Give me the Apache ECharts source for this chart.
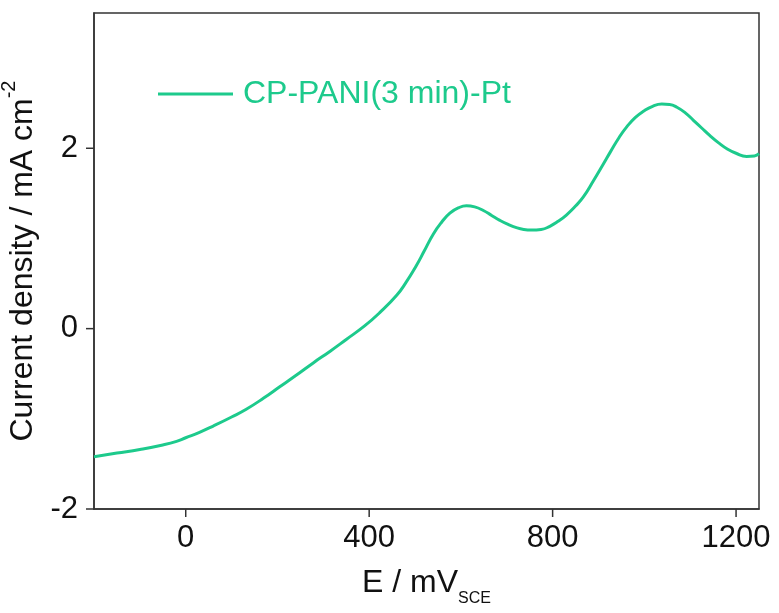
<!DOCTYPE html>
<html>
<head>
<meta charset="utf-8">
<script src="https://cdn.jsdelivr.net/npm/echarts@6/dist/echarts.min.js"></script>
<style>html,body{margin:0;padding:0;background:#fff}#c{width:779px;height:613px}</style>
</head>
<body>
<div id="c"></div>
<script>
const seriesName = 'CP-PANI(3 min)-Pt';
const potential = [-200,-150,-100,-50,-20,0,30,60,100,132,170,205,240,278,315,350,390,423,460,480,503,520,540,558,576,595,612,630,649,667,685,703,721,737,754,775,794,812,830,850,867,889,910,926,945,962,980,998,1018,1038,1055,1071,1090,1107,1125,1143,1162,1180,1200,1223,1240,1250];
const current = [-1.42,-1.38,-1.34,-1.29,-1.25,-1.21,-1.15,-1.08,-0.98,-0.894,-0.77,-0.645,-0.52,-0.38,-0.25,-0.12,0.03,0.177,0.37,0.51,0.7,0.86,1.05,1.18,1.28,1.34,1.362,1.35,1.31,1.255,1.2,1.155,1.12,1.10,1.093,1.10,1.135,1.19,1.26,1.36,1.46,1.64,1.82,1.96,2.12,2.24,2.34,2.41,2.465,2.49,2.485,2.455,2.39,2.31,2.225,2.14,2.06,1.995,1.945,1.91,1.915,1.94];
const xTicks = [0, 400, 800, 1200];
const yTicks = [-2, 0, 2];
const xRange = [-200, 1250];
const yRange = [-2, 3.5];

const green = '#1dca8c';
const axisColor = '#333';
const font = 'Liberation Sans, Arial, sans-serif';
const tickLen = 8;

const chart = echarts.init(document.getElementById('c'), null, {renderer: 'canvas'});
chart.setOption({
  animation: false,
  backgroundColor: '#fff',
  grid: {left: 94, right: 20, top: 13, bottom: 104, show: true, borderColor: axisColor, borderWidth: 1.5, containLabel: false, outerBoundsMode: 'none'},
  legend: {
    left: 153, top: 73,
    icon: 'rect', itemWidth: 75, itemHeight: 3, itemGap: 10,
    textStyle: {color: green, fontSize: 32, fontFamily: font, padding: [0,0,0,5]},
    data: [seriesName]
  },
  xAxis: {
    type: 'value', min: xRange[0], max: xRange[1],
    axisLine: {show: true, onZero: false, lineStyle: {color: axisColor, width: 1.5}},
    axisTick: {show: false},
    axisLabel: {show: true, fontSize: 31, color: '#111', fontFamily: font, margin: 14, customValues: xTicks, formatter: v => String(v)},
    splitLine: {show: false},
    name: '{a|E / mV}{s|SCE}',
    nameLocation: 'middle', nameGap: 58,
    nameTextStyle: {
      fontFamily: font, color: '#111',
      rich: {
        a: {fontSize: 32, lineHeight: 40, verticalAlign: 'top', fontFamily: font, color: '#111'},
        s: {fontSize: 16, lineHeight: 14, verticalAlign: 'bottom', fontFamily: font, color: '#111'}
      }
    }
  },
  yAxis: {
    type: 'value', min: yRange[0], max: yRange[1],
    axisLine: {show: true, onZero: false, lineStyle: {color: axisColor, width: 1.5}},
    axisTick: {show: false},
    axisLabel: {show: true, fontSize: 31, color: '#111', fontFamily: font, margin: 16, customValues: yTicks},
    splitLine: {show: false},
    name: '{a|Current density / mA cm}{s|-2}',
    nameLocation: 'middle', nameGap: 46,
    nameTextStyle: {
      fontFamily: font, color: '#111',
      rich: {
        a: {fontSize: 32, lineHeight: 40, verticalAlign: 'bottom', fontFamily: font, color: '#111'},
        s: {fontSize: 20, lineHeight: 14, verticalAlign: 'top', fontFamily: font, color: '#111'}
      }
    }
  },
  series: [{
    name: seriesName,
    type: 'line',
    data: potential.map((e, i) => [e, current[i]]),
    smooth: 0.5,
    symbol: 'none',
    lineStyle: {color: green, width: 3},
    itemStyle: {color: green},
    clip: true
  }]
});

// outward tick marks, positioned through the chart's own scales
const corner = chart.convertToPixel({gridIndex: 0}, [xRange[0], yRange[0]]);
const tickGraphics = [];
xTicks.forEach(v => {
  const p = chart.convertToPixel({gridIndex: 0}, [v, yRange[0]]);
  tickGraphics.push({type: 'rect', silent: true, z: 100,
    shape: {x: p[0] - 0.75, y: corner[1], width: 1.5, height: tickLen},
    style: {fill: axisColor}});
});
yTicks.forEach(v => {
  const p = chart.convertToPixel({gridIndex: 0}, [xRange[0], v]);
  tickGraphics.push({type: 'rect', silent: true, z: 100,
    shape: {x: corner[0] - tickLen, y: p[1] - 0.75, width: tickLen, height: 1.5},
    style: {fill: axisColor}});
});
chart.setOption({graphic: {elements: tickGraphics}});
</script>
</body>
</html>
